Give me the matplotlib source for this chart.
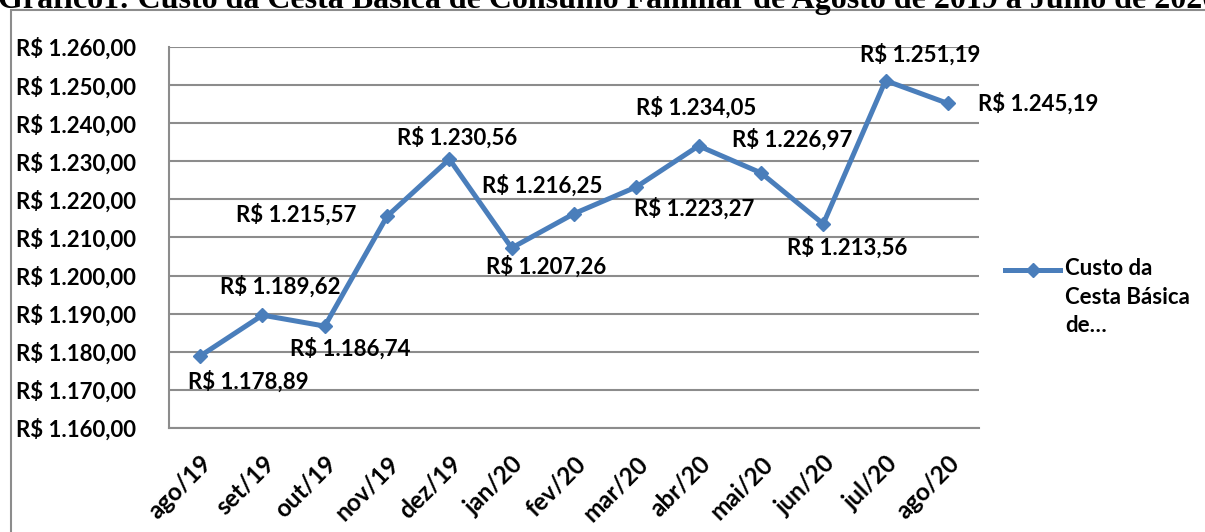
import matplotlib.pyplot as plt
from matplotlib.lines import Line2D
from matplotlib.patches import Rectangle
from matplotlib.ticker import FuncFormatter

# data
months = ['ago/19', 'set/19', 'out/19', 'nov/19', 'dez/19', 'jan/20', 'fev/20',
          'mar/20', 'abr/20', 'mai/20', 'jun/20', 'jul/20', 'ago/20']
cost = [1178.89, 1189.62, 1186.74, 1215.57, 1230.56, 1207.26, 1216.25,
        1223.27, 1234.05, 1226.97, 1213.56, 1251.19, 1245.19]
title = 'Gráfico1: Custo da Cesta Básica de Consumo Familiar de Agosto de 2019 a Julho de 2020'
series_name = 'Custo da\nCesta Básica\nde…'

# label offsets in pixels (dx, dy) relative to each point
label_offsets = [(48, -26), (18, 29), (25, -22), (-91, 2), (8, 22), (34, -19), (-32, 28),
                 (58, -22), (-2, 38), (31, 33), (24, -24), (35, 26), (90, 0)]

blue = '#4A7EBB'
grey = '#8C8C8C'
W, H = 1205, 532
fs = 16


def brl(v):
    s = f'{v:,.2f}'.replace(',', 'X').replace('.', ',').replace('X', '.')
    return 'R$ ' + s


plt.rcParams['font.family'] = ['Lato', 'DejaVu Sans']
plt.rcParams['font.weight'] = 'bold'

fig = plt.figure(figsize=(W / 100, H / 100), dpi=100)

# outer chart frame
fig.add_artist(Rectangle((11 / W, -0.1), 1.2, 1 - 10 / H + 0.1, transform=fig.transFigure,
                         fill=False, edgecolor=grey, linewidth=1.5))

# title, cut off by the top of the image
fig.text(-2 / W, 1 - 8 / H, title, family='Liberation Serif', fontweight='bold',
         fontsize=23, va='baseline', ha='left')

ax = fig.add_axes([169 / W, 1 - 428 / H, (979 - 169) / W, (428 - 47) / H])
x = range(len(months))
ax.plot(x, cost, color=blue, linewidth=3.6, marker='D', markersize=7.5, zorder=3)

for i, (v, off) in enumerate(zip(cost, label_offsets)):
    ax.annotate(brl(v), (i, v), xytext=off, textcoords='offset pixels',
                ha='center', va='center', fontsize=fs, fontweight='bold')

ax.set_xlim(-0.5, len(months) - 0.5)
ax.set_ylim(1160, 1260)
ax.set_yticks(range(1160, 1261, 10))
ax.yaxis.set_major_formatter(FuncFormatter(lambda v, p: brl(v)))
ax.set_xticks(list(x))
ax.set_xticklabels(months, rotation=45, ha='right', rotation_mode='anchor', fontsize=17.5)
ax.tick_params(axis='both', length=0)
ax.tick_params(axis='y', pad=24, labelsize=fs)
ax.tick_params(axis='x', pad=17)
ax.grid(axis='y', color=grey, linewidth=1.5)
ax.set_axisbelow(True)
for side in ['top', 'right']:
    ax.spines[side].set_visible(False)
for side in ['left', 'bottom']:
    ax.spines[side].set_color(grey)
    ax.spines[side].set_linewidth(1.5)

# legend
ly = 1 - 270 / H
fig.add_artist(Line2D([1005 / W, 1060 / W], [ly, ly], transform=fig.transFigure,
                      color=blue, linewidth=3.6))
fig.add_artist(Line2D([1033 / W], [ly], transform=fig.transFigure,
                      color=blue, marker='D', markersize=7.5, linestyle='none'))
fig.text(1065 / W, ly + 12 / H, series_name, fontsize=fs, fontweight='bold',
         va='top', ha='left', linespacing=1.45)

fig.savefig('out.png', dpi=100)
